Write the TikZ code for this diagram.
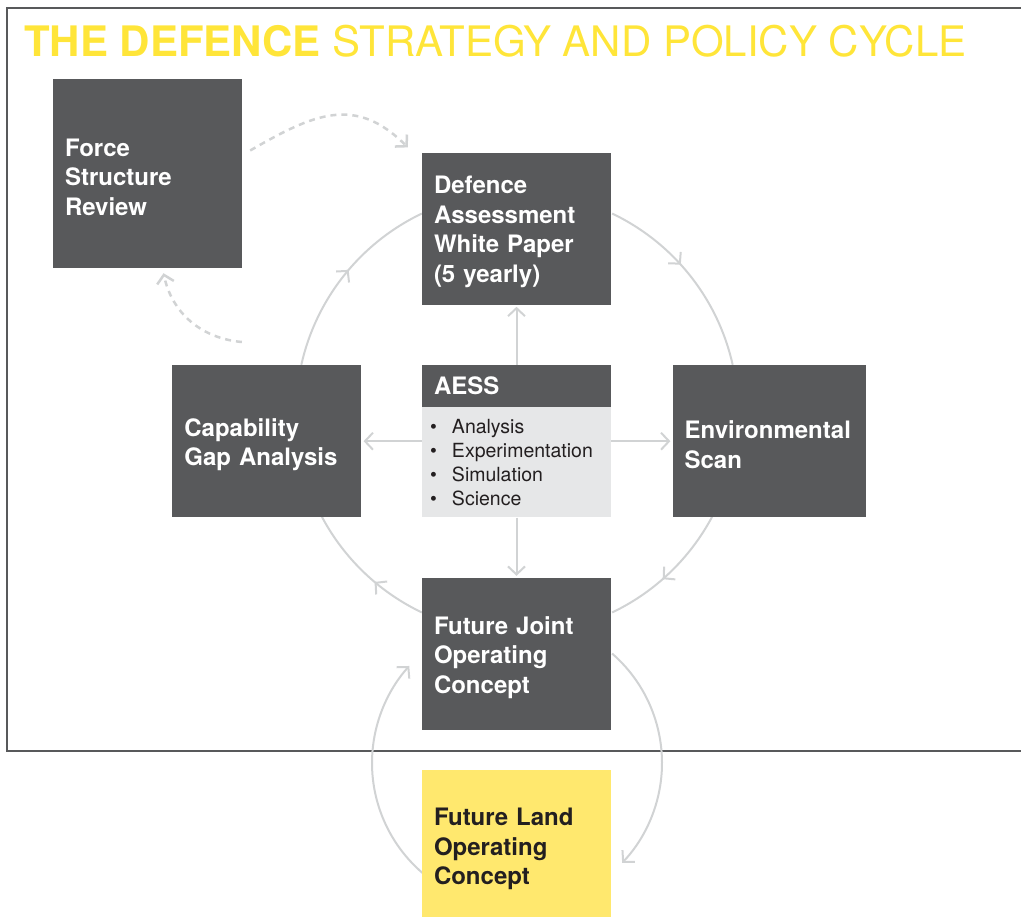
\documentclass[tikz,border=0pt]{standalone}
\usepackage{fontspec}
\setmainfont{TeX Gyre Heros}
\usepackage{xcolor}
\usepackage{tikz}
\usetikzlibrary{arrows.meta, decorations.markings}
\usetikzlibrary{shapes,fit,calc,positioning}

\definecolor{boxgray}{HTML}{58595B}
\definecolor{linegray}{HTML}{D1D3D4}
\definecolor{listgray}{HTML}{E6E7E8}
\definecolor{titleyellow}{HTML}{FFE539}
\definecolor{boxyellow}{HTML}{FFE86E}
\definecolor{inkdark}{HTML}{231F20}

\def\cycrad{221pt}

\begin{document}
\begin{tikzpicture}[
	x=1pt, y=1pt,
	>={Straight Barb[length=8pt,width=17pt]},
	plainbox/.style = {shape=rectangle, fill=boxgray, text=white,
	font=\bfseries\fontsize{24}{29.5}\selectfont,
	align=left, inner sep=0pt, text width=165pt,
	minimum width=189pt, minimum height=152pt},
	box/.style = {plainbox, execute at begin node={\rule{0pt}{24.5pt}}},
	cyc/.style = {draw=linegray, line width=2pt},
	midtip/.style = {postaction={decorate},
	decoration={markings, mark=at position #1 with {\arrow{>}}}},
	spoke/.style = {->, draw=linegray, line width=2pt, shorten >=2pt},
	hint/.style = {->, draw=linegray, line width=2.5pt, dash pattern=on 6pt off 5pt}
]
\useasboundingbox (0,0) rectangle (1021,-917);
\draw[boxgray, line width=1.5pt] (1030,-8) -| (7,-751) -- (1030,-751);
\node[anchor=base west, inner sep=0pt, text=titleyellow,
	font=\fontsize{42}{48}\selectfont] (title) at (24,-57)
	{\textbf{THE DEFENCE} STRATEGY AND POLICY CYCLE};

% the cycle round AESS
\coordinate (hub) at (517,-413);
\draw[cyc, midtip=0.535] ([shift={(167.4:\cycrad)}]hub) arc[start angle=167.4, end angle=115.5, radius=\cycrad];
\draw[cyc, midtip=0.43] ([shift={(64.5:\cycrad)}]hub) arc[start angle=64.5, end angle=12.6, radius=\cycrad];
\draw[cyc, midtip=0.57] ([shift={(-27.9:\cycrad)}]hub) arc[start angle=-27.9, end angle=-64.5, radius=\cycrad];
\draw[cyc, midtip=0.4] ([shift={(-115.5:\cycrad)}]hub) arc[start angle=-115.5, end angle=-152.1, radius=\cycrad];

% joint <-> land loop
\coordinate (hub2) at (517,-763);
\draw[cyc, ->] ([shift={(49:145pt)}]hub2) arc[start angle=49, end angle=-43.5, radius=145pt];
\draw[cyc, ->] ([shift={(229.4:145pt)}]hub2) arc[start angle=229.4, end angle=138, radius=145pt];

\node[plainbox, minimum height=42pt] (aess) at (516.5,-386) {AESS};
\node[plainbox, fill=listgray, text=inkdark, font=\fontsize{19.5}{24}\selectfont,
	text width=173pt, minimum height=110pt, below=0pt of aess] (aesslist)
	{\makebox[22pt][l]{\textbullet}Analysis\\
	\makebox[22pt][l]{\textbullet}Experimentation\\
	\makebox[22pt][l]{\textbullet}Simulation\\
	\makebox[22pt][l]{\textbullet}Science};
\node[fit=(aess)(aesslist), inner sep=0pt] (aessall) {};

\node[box, above=60pt of aess] (def) {Defence\\Assessment\\White Paper\\(5 yearly)};
\node[box, left=60pt of aessall] (cap) {Capability\\Gap Analysis};
\node[box, right=61pt of aessall, minimum width=193pt, text width=169pt] (env) {Environmental\\Scan};
\node[box, below=60pt of aessall] (fjoc) {Future Joint\\Operating\\Concept};
\node[box, fill=boxyellow, text=inkdark, minimum height=150pt,
	below=40pt of fjoc] (floc) {Future Land\\Operating\\Concept};
\node[box, minimum height=189pt] (fsr) at (147.5,-173.5) {Force\\Structure\\Review};

\draw[spoke] (aess.north) -- (def.south);
\draw[spoke] (aesslist.west |- cap.east) -- (cap.east);
\draw[spoke] (aesslist.east |- env.west) -- (env.west);
\draw[spoke] (aesslist.south) -- (fjoc.north);

\draw[hint] ([shift={(8pt,23pt)}]fsr.east) to[out=30, in=135, looseness=1.2] ([shift={(-14pt,5pt)}]def.north west);
\draw[hint] ([shift={(-25pt,23pt)}]cap.north) to[out=175, in=-78] ([shift={(16pt,-5pt)}]fsr.south);
\end{tikzpicture}
\end{document}
